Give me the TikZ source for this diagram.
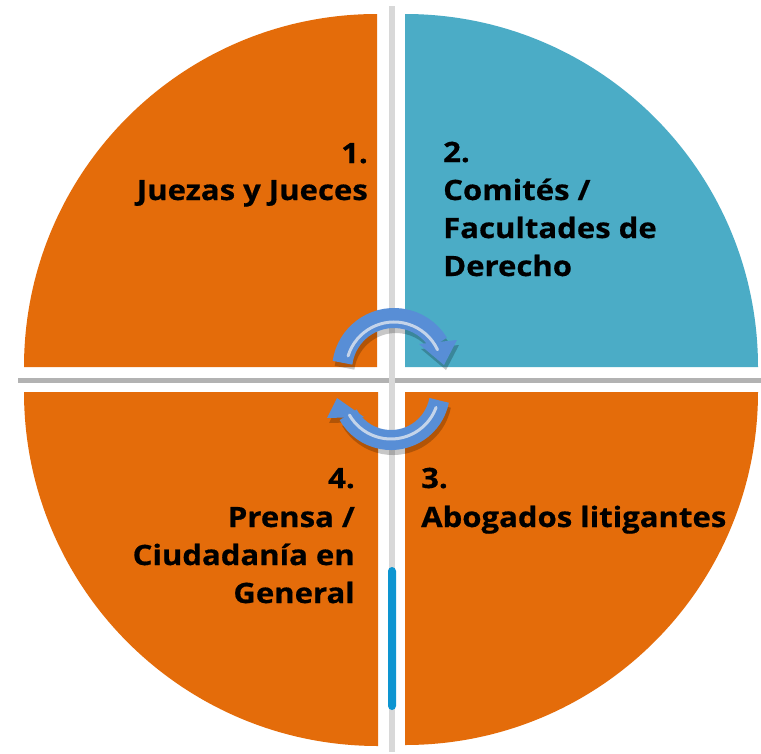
\documentclass[tikz,border=0pt]{standalone}
\usepackage{fontspec}
\setmainfont[BoldFeatures={FakeStretch=1.11,FakeBold=0.6}]{Open Sans}
\definecolor{qorange}{RGB}{228,108,10}
\definecolor{qteal}{RGB}{75,172,198}
\definecolor{arrowblue}{RGB}{88,142,214}
\definecolor{hilite}{RGB}{196,212,234}
\definecolor{greyh}{RGB}{178,178,178}
\definecolor{greyv}{RGB}{216,216,216}
\definecolor{stripblue}{RGB}{13,149,209}
\begin{document}
\begin{tikzpicture}[x=1pt,y=-1pt,
  rim/.style={draw=white,fill=white,line width=18pt,line join=round},
  lbl/.style={font=\bfseries\fontsize{28}{28}\selectfont,text=black,inner sep=0pt},
  band/.style={draw=arrowblue,line width=20pt},
  bandshadow/.style={draw=black,opacity=0.22,line width=20pt},
  headshadow/.style={fill=black,opacity=0.22},
  hl/.style={draw=hilite,line width=3pt,line cap=round}]
\useasboundingbox (0,0) rectangle (761,753);
\fill[white] (0,0) rectangle (761,753);
% shadow cross seen in the gaps
\fill[greyh] (18,377.5) rectangle (761,382.5);
\fill[greyv] (389,6) rectangle (395,752);
% white rims
\path[rim] (377,367) -- (377,14) arc[start angle=270,end angle=180,radius=353] -- cycle;
\path[rim] (405,367) -- (405,14) arc[start angle=270,end angle=360,radius=353] -- cycle;
\path[rim] (378,392) -- (24,392) arc[start angle=180,end angle=90,radius=354] -- cycle;
\path[rim] (405,392) -- (758,392) arc[start angle=0,end angle=90,radius=353] -- cycle;
% quadrants
\fill[qorange] (377,367) -- (377,14) arc[start angle=270,end angle=180,radius=353] -- cycle;
\fill[qteal] (405,367) -- (405,14) arc[start angle=270,end angle=360,radius=353] -- cycle;
\fill[qorange] (378,392) -- (24,392) arc[start angle=180,end angle=90,radius=354] -- cycle;
\fill[qorange] (405,392) -- (758,392) arc[start angle=0,end angle=90,radius=353] -- cycle;
% blue strip
\fill[stripblue,rounded corners=4pt] (388,567) rectangle (396,710);
% arrow shadows
\begin{scope}[shift={(2,5)}]
\draw[bandshadow] ([shift={(188:52)}]394,370) arc[start angle=188,end angle=328,radius=52];
\fill[headshadow] (419,344) -- (457,340) -- (444,365) -- cycle;
\draw[bandshadow] ([shift={(11:49)}]391,391) arc[start angle=11,end angle=150,radius=49];
\fill[headshadow] (327,418) -- (364,417) -- (337,398) -- cycle;
\end{scope}
% top arrow
\draw[band] ([shift={(188:52)}]394,370) arc[start angle=188,end angle=329,radius=52];
\fill[arrowblue] (419,344) -- (457,340) -- (444,365) -- cycle;
\draw[hl] ([shift={(197:48)}]394,370) arc[start angle=197,end angle=335,radius=48];
% bottom arrow
\draw[band] ([shift={(11:49)}]391,391) arc[start angle=11,end angle=151,radius=49];
\fill[arrowblue] (327,418) -- (364,417) -- (337,398) -- cycle;
\draw[hl] ([shift={(20:48)}]391,391) arc[start angle=20,end angle=150,radius=48];
% labels
\node[lbl,anchor=base east] (n1a) at (368,163) {1.};
\node[lbl,anchor=base east] (n1b) at (368,200) {Juezas y Jueces};
\node[lbl,anchor=base west] (n2a) at (443,162) {2.};
\node[lbl,anchor=base west] (n2b) at (443,200) {Comités /};
\node[lbl,anchor=base west] (n2c) at (443,238) {Facultades de};
\node[lbl,anchor=base west] (n2d) at (443,276) {Derecho};
\node[lbl,anchor=base west] (n3a) at (421,488) {3.};
\node[lbl,anchor=base west] (n3b) at (421,527) {Abogados litigantes};
\node[lbl,anchor=base east] (n4a) at (355,488) {4.};
\node[lbl,anchor=base east] (n4b) at (355,527) {Prensa /};
\node[lbl,anchor=base east] (n4c) at (355,565) {Ciudadanía en};
\node[lbl,anchor=base east] (n4d) at (355,603) {General};
\end{tikzpicture}
\end{document}
